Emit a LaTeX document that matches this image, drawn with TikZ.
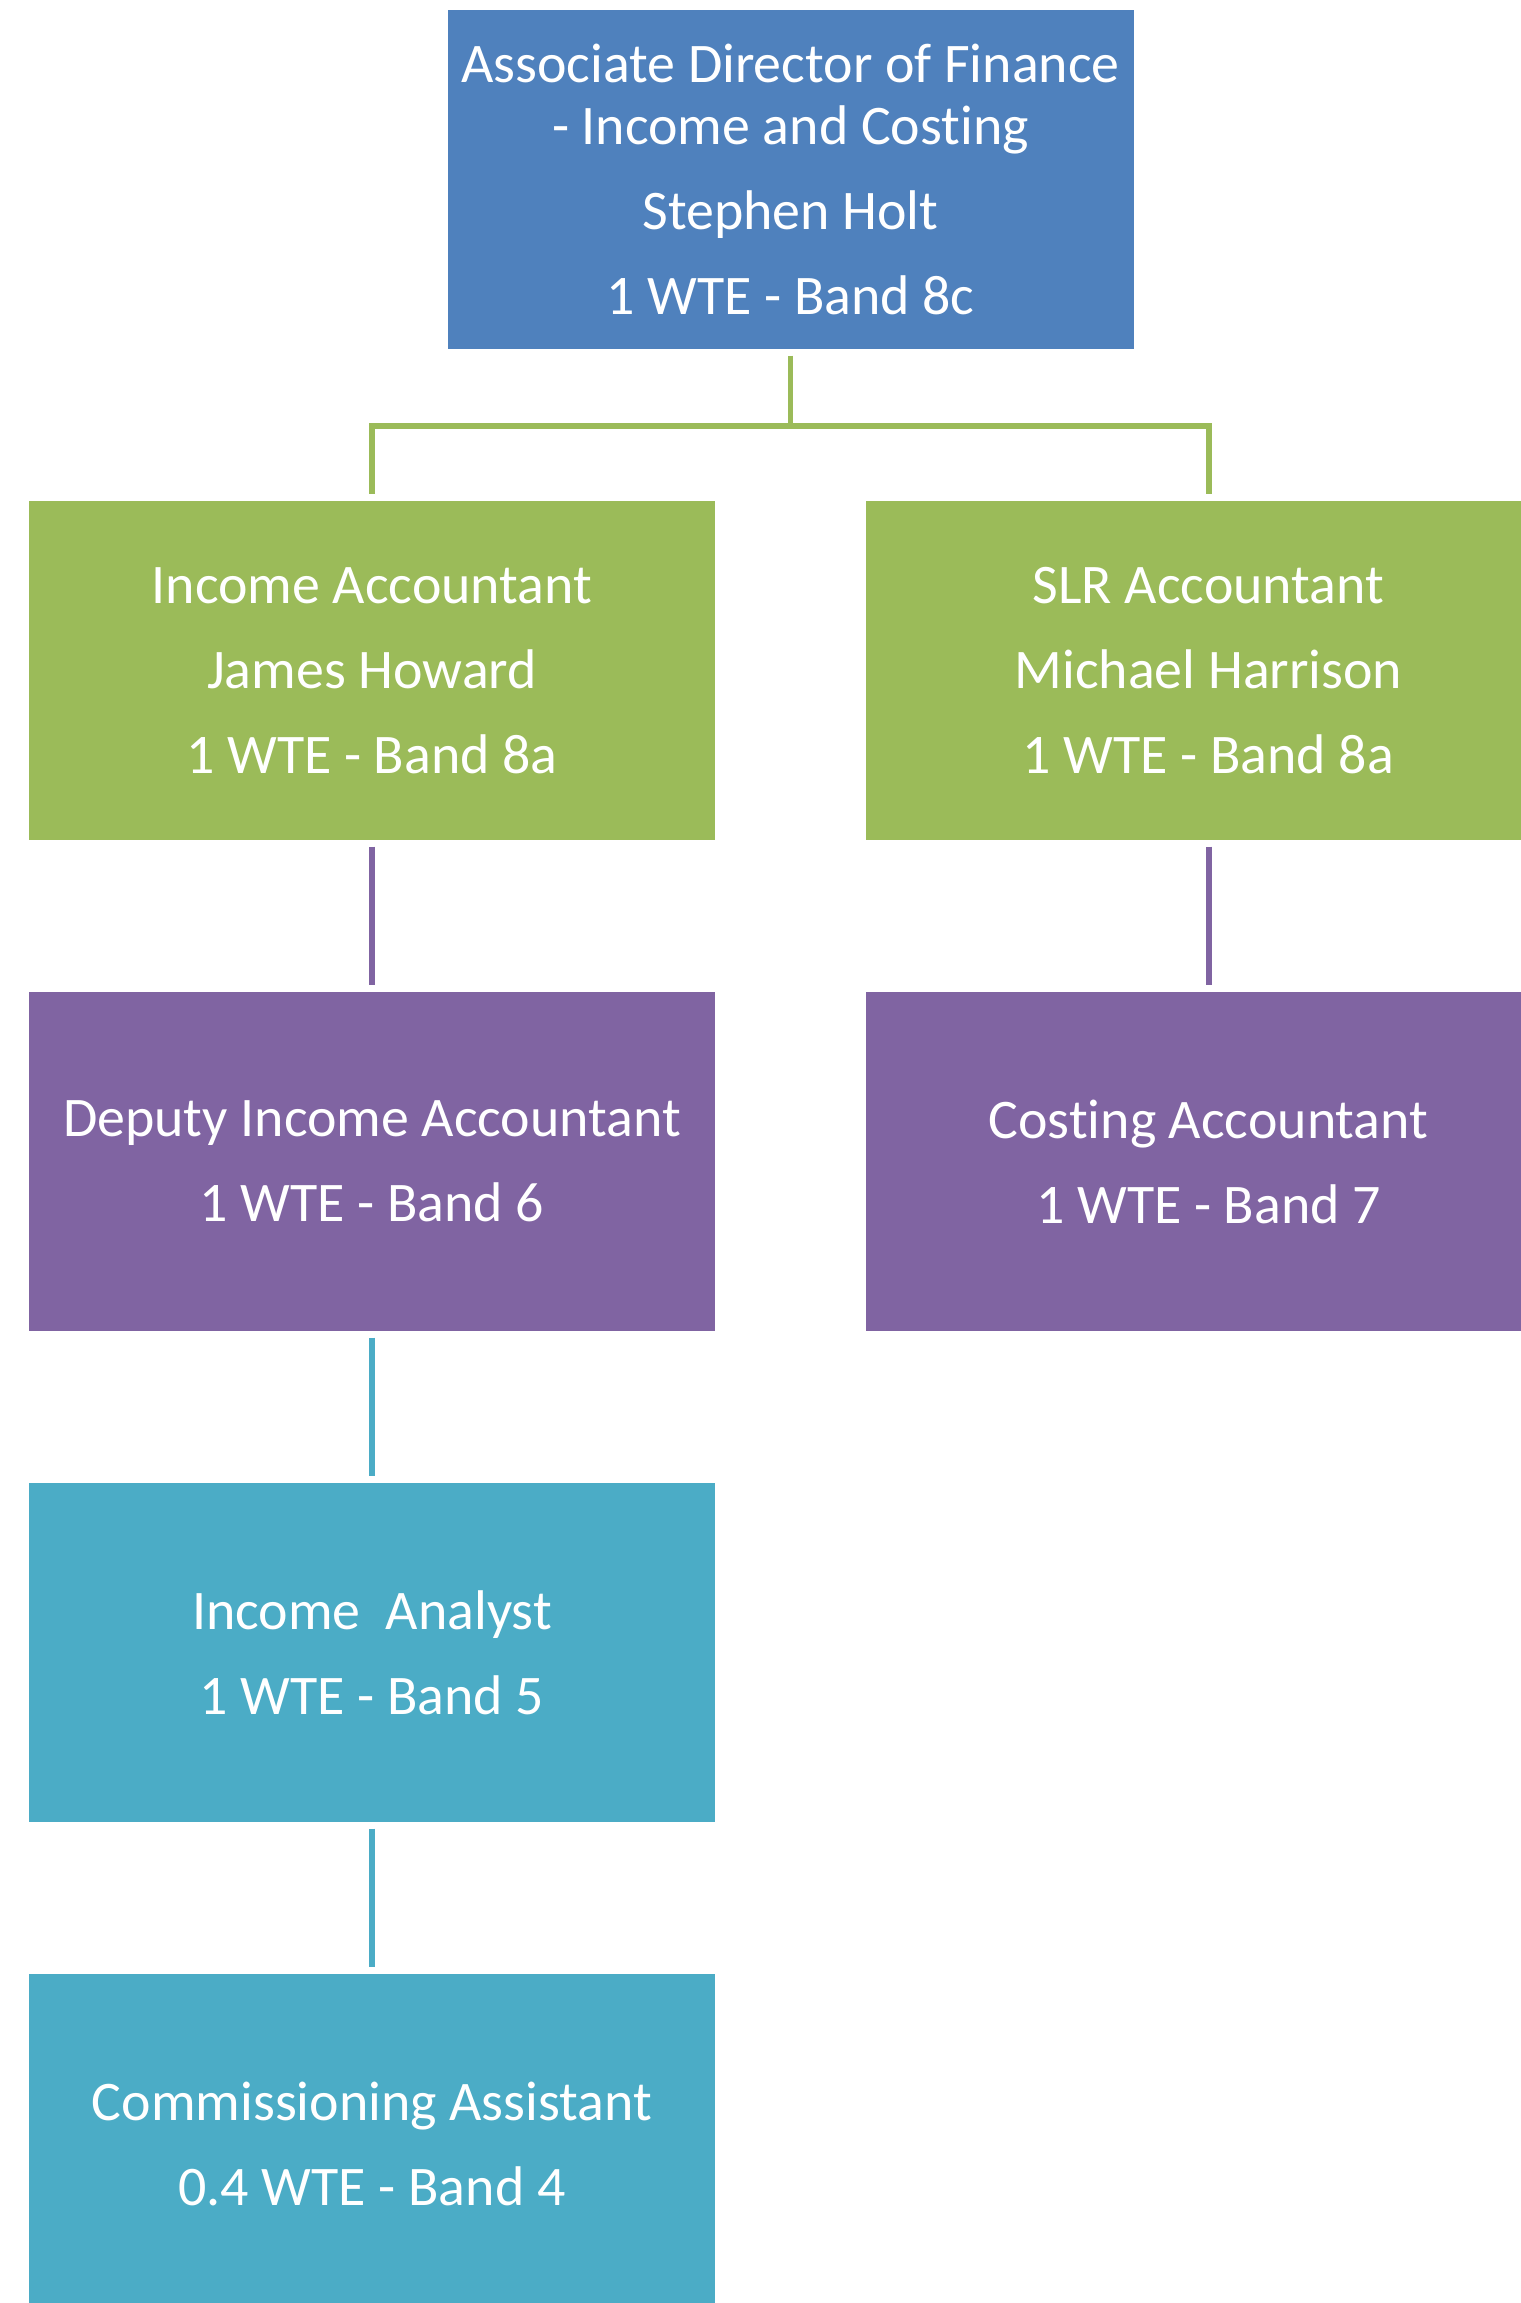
\documentclass[tikz,border=0pt]{standalone}
\usepackage{fontspec}
\setmainfont{Carlito}[Ligatures=NoCommon]
\usetikzlibrary{positioning}
\definecolor{boxblue}{HTML}{4F81BD}
\definecolor{boxgreen}{HTML}{9BBB59}
\definecolor{boxpurple}{HTML}{8064A2}
\definecolor{boxcyan}{HTML}{4BACC6}

\begin{document}
\begin{tikzpicture}[
  post/.style={minimum width=6.86cm, minimum height=3.39cm, inner sep=0pt,
               align=center, text=white, font=\fontsize{15.9}{17.4}\selectfont},
  link/.style={line width=1.7pt}
]
  \useasboundingbox (0,0) rectangle (15.21,-23.03);
  % Head of section
  \node[post, fill=boxblue] (dir) at (7.905,-1.795)
        {Associate Director of Finance\\- Income and Costing\\[6.8pt]
         Stephen Holt\\[6.8pt]1 WTE - Band 8c};
  % Accountants
  \node[post, fill=boxgreen] (inc) at (3.72,-6.705)
        {Income Accountant\\[6.8pt]James Howard\\[6.8pt]1 WTE - Band 8a};
  \node[post, fill=boxgreen] (slr) at (12.085,-6.705)
        {SLR Accountant\\[6.8pt]Michael Harrison\\[6.8pt]1 WTE - Band 8a};
  % Second level
  \node[post, fill=boxpurple] (dep) at (3.72,-11.615)
        {Deputy Income Accountant\\[6.8pt]1 WTE - Band 6};
  \node[post, fill=boxpurple] (cst) at (12.085,-11.615)
        {Costing Accountant\\[6.8pt]1 WTE - Band 7};
  % Analyst and assistant
  \node[post, fill=boxcyan] (ana) at (3.72,-16.525)
        {Income\ \ Analyst\\[6.8pt]1 WTE - Band 5};
  \node[post, fill=boxcyan] (com) at (3.72,-21.435)
        {Commissioning Assistant\\[6.8pt]0.4 WTE - Band 4};
  % Connectors
  \coordinate (bus) at (7.905,-4.26);
  \draw[link, boxgreen] ([yshift=-0.06cm]dir.south) -- (bus)
        -| ([yshift=0.06cm]inc.north);
  \draw[link, boxgreen] (bus) -| ([yshift=0.06cm]slr.north);
  \draw[link, boxpurple] ([yshift=-0.06cm]inc.south) -- ([yshift=0.06cm]dep.north);
  \draw[link, boxpurple] ([yshift=-0.06cm]slr.south) -- ([yshift=0.06cm]cst.north);
  \draw[link, boxcyan] ([yshift=-0.06cm]dep.south) -- ([yshift=0.06cm]ana.north);
  \draw[link, boxcyan] ([yshift=-0.06cm]ana.south) -- ([yshift=0.06cm]com.north);
\end{tikzpicture}
\end{document}
